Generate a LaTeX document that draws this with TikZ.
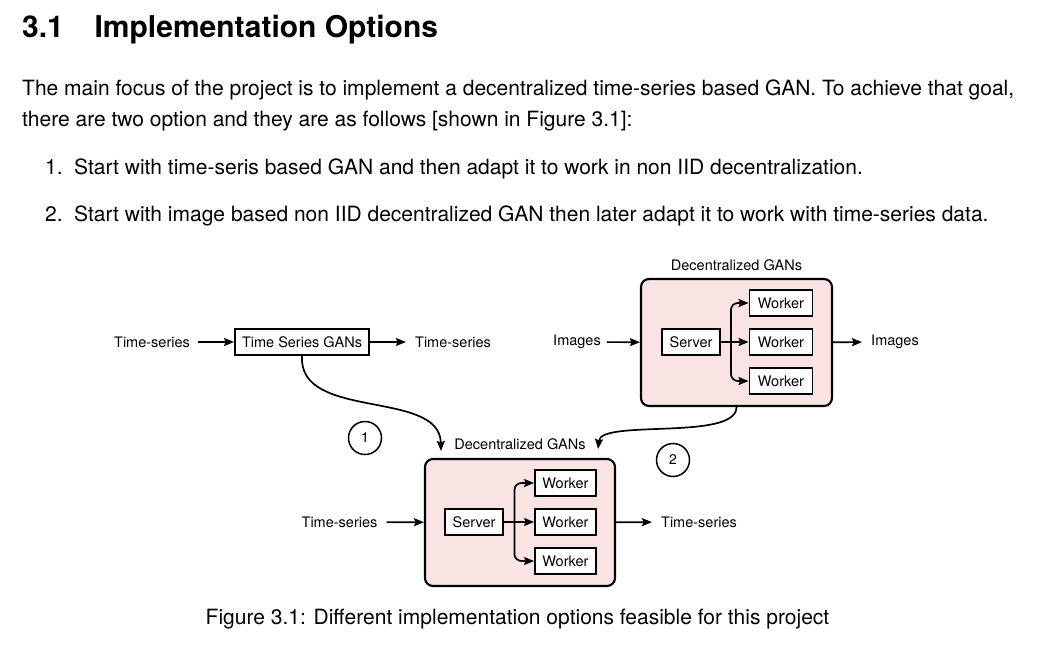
\documentclass[tikz,border=0pt]{standalone}
\usepackage{fontspec}
\setmainfont{TeX Gyre Heros}
\usetikzlibrary{arrows.meta,calc}
\definecolor{pinkfill}{RGB}{249,227,227}
\tikzset{
  px/.style={x=1pt,y=-1pt},
  body/.style={anchor=base west,inner sep=0pt,font=\fontsize{21}{23}\selectfont},
  lbl/.style={inner sep=0pt,font=\fontsize{14.5}{16}\selectfont},
  gbox/.style={draw,line width=1.9pt,fill=white,inner sep=0pt,font=\fontsize{14.5}{16}\selectfont},
  group/.style={draw,line width=2.1pt,fill=pinkfill,rounded corners=8pt,inner sep=0pt},
  arr/.style={line width=1.7pt,-{Stealth[length=10pt,width=8pt,inset=1.5pt]}},
  num/.style={draw,circle,line width=1.5pt,minimum size=33pt,inner sep=0pt,font=\fontsize{14}{15}\selectfont},
}
\begin{document}
\begin{tikzpicture}[px]
\useasboundingbox (0,0) rectangle (1052,656);
% heading and text
\node[body,font=\fontsize{30}{32}\selectfont\bfseries] (h1) at (22,37.3) {3.1};
\node[body,font=\fontsize{30}{32}\selectfont\bfseries] (h2) at (94.3,37.3) {Implementation Options};
\node[body] (p1) at (22,95) {The main focus of the project is to implement a decentralized time-series based GAN. To achieve that goal,};
\node[body] (p2) at (22,126) {there are two option and they are as follows [shown in Figure 3.1]:};
\node[body] (i1n) at (45,174.3) {1.};
\node[body] (i1) at (74,174.3) {Start with time-seris based GAN and then adapt it to work in non IID decentralization.};
\node[body] (i2n) at (45,221.5) {2.};
\node[body] (i2) at (74,221.5) {Start with image based non IID decentralized GAN then later adapt it to work with time-series data.};
% top-left chain
\node[lbl] (tsin) at (152,342) {Time-series};
\node[gbox,minimum width=134pt,minimum height=26pt] (tsg) at (302,342) {Time Series GANs};
\node[lbl] (tsout) at (453,342) {Time-series};
\draw[arr,shorten <=8pt] (tsin) -- (tsg);
\draw[arr,shorten >=9pt] (tsg) -- (tsout);
% top-right group
\node[group,minimum width=191pt,minimum height=127pt] (g1) at (736.5,342.5) {};
\node[lbl] (g1l) at (736.5,265) {Decentralized GANs};
\node[gbox,minimum width=58pt,minimum height=26pt] (s1) at (691,342) {Server};
\node[gbox,minimum width=63pt,minimum height=26pt] (w1a) at (781,303) {Worker};
\node[gbox,minimum width=63pt,minimum height=26pt] (w1b) at (781,342) {Worker};
\node[gbox,minimum width=63pt,minimum height=26pt] (w1c) at (781,381) {Worker};
\coordinate (j1) at ($(s1.east)+(10,0)$);
\draw[arr] (s1) -- (w1b);
\draw[arr,rounded corners=7pt] (j1) |- (w1a.west);
\draw[arr,rounded corners=7pt] (j1) |- (w1c.west);
\node[lbl] (imin) at (577,342) {Images};
\node[lbl] (imout) at (895,342) {Images};
\draw[arr,shorten <=6pt] (imin) -- (g1);
\draw[arr,shorten >=9pt] (g1) -- (imout);
% bottom group
\node[group,minimum width=190pt,minimum height=127pt] (g2) at (520,522.5) {};
\node[lbl] (g2l) at (520,444) {Decentralized GANs};
\node[gbox,minimum width=58pt,minimum height=26pt] (s2) at (474,522) {Server};
\node[gbox,minimum width=61pt,minimum height=26pt] (w2a) at (565.5,483) {Worker};
\node[gbox,minimum width=61pt,minimum height=26pt] (w2b) at (565.5,522) {Worker};
\node[gbox,minimum width=61pt,minimum height=26pt] (w2c) at (565.5,561) {Worker};
\coordinate (j2) at ($(s2.east)+(10.5,0)$);
\draw[arr] (s2) -- (w2b);
\draw[arr,rounded corners=7pt] (j2) |- (w2a.west);
\draw[arr,rounded corners=7pt] (j2) |- (w2c.west);
\node[lbl] (tsin2) at (339.5,522) {Time-series};
\node[lbl] (tsout2) at (699,522) {Time-series};
\draw[arr,shorten <=9pt] (tsin2) -- (g2);
\draw[arr,shorten >=9pt] (g2) -- (tsout2);
% curved connectors
\coordinate (t1) at ($(g2.north west)+(17,-7)$);
\coordinate (t2) at ($(g2.north east)+(-18,-9)$);
\draw[arr] (tsg.south) .. controls ($(tsg.south)+(-4,65)$) and ($(t1)+(-1,-62)$) .. (t1);
\draw[arr] (g1.south) .. controls ($(g1.south)+(0,34)$) and ($(t2)+(3,-30)$) .. (t2);
\node[num] (n1) at (365,438) {1};
\node[num] (n2) at (673,460) {2};
% caption
\node[inner sep=0pt,font=\fontsize{21}{23}\selectfont] (cap) at (517.5,619) {Figure 3.1: Different implementation options feasible for this project};
\end{tikzpicture}
\end{document}
